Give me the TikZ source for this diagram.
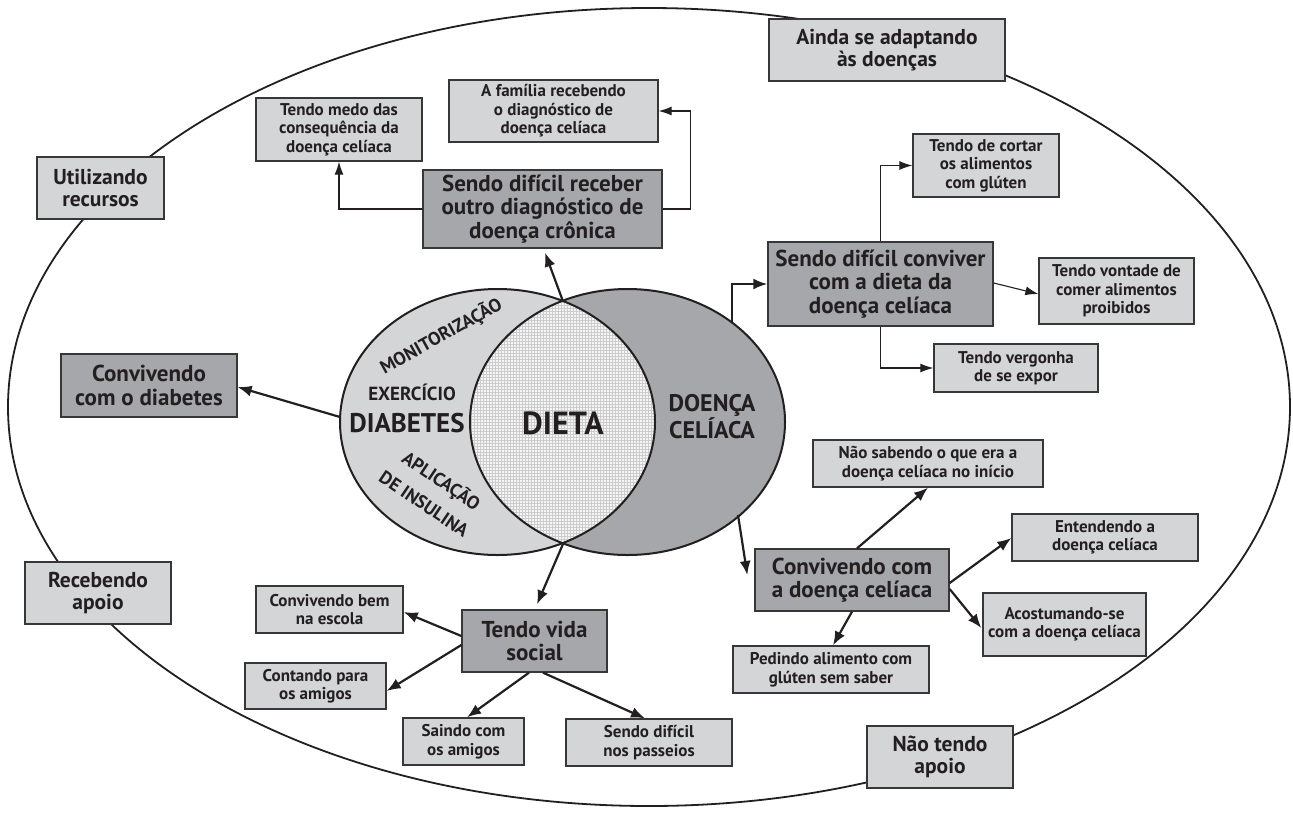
\documentclass[tikz,border=0pt]{standalone}
\usepackage{fontspec}
\setmainfont{PT Sans}
\usetikzlibrary{arrows.meta,patterns,calc}
\definecolor{lightfill}{RGB}{212,213,215}
\definecolor{darkfill}{RGB}{166,167,170}
\definecolor{edge}{RGB}{55,55,55}
\definecolor{ink}{RGB}{35,31,32}
\tikzset{
  lbox/.style={draw=edge, line width=1.3pt, fill=lightfill, text=ink, align=center, inner sep=2pt,
    font=\bfseries\fontsize{17}{18.5}\selectfont},
  obox/.style={lbox, font=\bfseries\fontsize{21.5}{22}\selectfont},
  dbox/.style={draw=edge, line width=1.3pt, fill=darkfill, text=ink, align=center, inner sep=2pt,
    font=\bfseries\fontsize{23}{23.5}\selectfont},
  thickarrow/.style={draw=ink, line width=2.2pt, -{Latex[length=14pt,width=11pt]}},
  thinarrow/.style={draw=ink, line width=1.1pt, -{Latex[length=13pt,width=9pt]}},
  venntext/.style={text=ink, align=center, inner sep=0pt}
}
\begin{document}
\begin{tikzpicture}[x=1pt,y=-1pt]
\useasboundingbox (0,0) rectangle (1293,815);
% outer ellipse
\draw[ink, line width=1.8pt] (649,407) ellipse [x radius=641, y radius=399];

% Venn diagram
\fill[lightfill] (497.5,422) ellipse [x radius=157.5, y radius=133];
\fill[darkfill] (627.5,422) ellipse [x radius=157.5, y radius=133];
\begin{scope}
  \clip (497.5,422) ellipse [x radius=157.5, y radius=133];
  \fill[black!4] (627.5,422) ellipse [x radius=157.5, y radius=133];
  \fill[pattern=grid, pattern color=black!20] (627.5,422) ellipse [x radius=157.5, y radius=133];
\end{scope}
\draw[ink, line width=2pt] (497.5,422) ellipse [x radius=157.5, y radius=133];
\draw[ink, line width=2pt] (627.5,422) ellipse [x radius=157.5, y radius=133];

\node[venntext, rotate=29, font=\bfseries\fontsize{18.5}{20}\selectfont] (monit) at (441,336) {MONITORIZAÇÃO};
\node[venntext, font=\bfseries\fontsize{19}{20}\selectfont] (exerc) at (412,392) {EXERCÍCIO};
\node[venntext, font=\bfseries\fontsize{27}{28}\selectfont] (diabetes) at (407,423) {DIABETES};
\node[venntext, font=\bfseries\fontsize{32}{34}\selectfont] (dieta) at (563,423) {DIETA};
\node[venntext, font=\bfseries\fontsize{24}{24}\selectfont] (celiaca) at (712,417) {DOENÇA\\CELÍACA};
\node[venntext, rotate=-34, font=\bfseries\fontsize{18.5}{20}\selectfont] (aplic) at (441,481) {APLICAÇÃO};
\node[venntext, rotate=-34, font=\bfseries\fontsize{18.5}{20}\selectfont] (insul) at (424,504) {DE INSULINA};

\coordinate (topint) at (562.5,300);
\coordinate (botint) at (563,544);
\coordinate (leftpt) at (340,417);
\coordinate (rightup) at (732,323);
\coordinate (rightlow) at (738,515);

% outer boxes
\node[obox, minimum width=236, minimum height=62] (ainda) at (887,50) {Ainda se adaptando\\às doenças};
\node[obox, minimum width=127, minimum height=62] (utiliz) at (100.5,188) {Utilizando\\recursos};
\node[obox, minimum width=146, minimum height=62] (receb) at (98,593) {Recebendo\\apoio};
\node[obox, minimum width=146, minimum height=62] (naotendo) at (940,757) {Não tendo\\apoio};

% dark boxes
\node[dbox, minimum width=176, minimum height=63] (diab) at (149,385.5) {Convivendo\\com o diabetes};
\node[dbox, minimum width=239, minimum height=78] (sdrec) at (542.5,209) {Sendo difícil receber\\outro diagnóstico de\\doença crônica};
\node[dbox, minimum width=225, minimum height=84] (sdconv) at (880.5,284) {Sendo difícil conviver\\com a dieta da\\doença celíaca};
\node[dbox, minimum width=194, minimum height=62] (conviv) at (852,580) {Convivendo com\\a doença celíaca};
\node[dbox, minimum width=145, minimum height=62] (vida) at (534.5,641) {Tendo vida\\social};

% small boxes
\node[lbox, minimum width=209, minimum height=62] (familia) at (553.5,111) {A família recebendo\\o diagnóstico de\\doença celíaca};
\node[lbox, minimum width=166, minimum height=63] (medo) at (339,129.5) {Tendo medo das\\consequência da\\doença celíaca};
\node[lbox, minimum width=146, minimum height=63] (cortar) at (986,165.5) {Tendo de cortar\\os alimentos\\com glúten};
\node[lbox, minimum width=155, minimum height=66] (vontade) at (1116.5,291) {Tendo vontade de\\comer alimentos\\proibidos};
\node[lbox, minimum width=164, minimum height=48] (vergonha) at (1016,368) {Tendo vergonha\\de se expor};
\node[lbox, minimum width=230, minimum height=47] (naosab) at (928,463.5) {Não sabendo o que era a\\doença celíaca no início};
\node[lbox, minimum width=186, minimum height=47] (entend) at (1105,537.5) {Entendendo a\\doença celíaca};
\node[lbox, minimum width=163, minimum height=63] (acost) at (1064.5,624.5) {Acostumando-se\\com a doença celíaca};
\node[lbox, minimum width=196, minimum height=47] (pedindo) at (831,669.5) {Pedindo alimento com\\glúten sem saber};
\node[lbox, minimum width=147, minimum height=47] (bem) at (329.5,609.5) {Convivendo bem\\na escola};
\node[lbox, minimum width=141, minimum height=46] (contando) at (315.5,686) {Contando para\\os amigos};
\node[lbox, minimum width=121, minimum height=47] (saindo) at (463.5,741.5) {Saindo com\\os amigos};
\node[lbox, minimum width=166, minimum height=47] (passeios) at (649,742.5) {Sendo difícil\\nos passeios};

% connectors from Venn
\draw[thickarrow] (topint) -- ($(sdrec.south)+(2.5,4)$);
\draw[thickarrow] (botint) -- ($(vida.north)+(2.5,-5)$);
\draw[thickarrow] (leftpt) -- ($(diab.east)+(0,1.5)$);
\draw[thickarrow] (rightup) |- (sdconv.west);
\draw[thickarrow] (rightlow) -- ($(conviv.west)+(-7,-5)$);

% elbow connectors
\draw[thinarrow] (sdrec.west) -| (medo.south);
\draw[thinarrow] (sdrec.east) -- ++(28,0) |- (familia.east);
\draw[thinarrow] (sdconv.north) |- (cortar.west);
\draw[thinarrow] ($(sdconv.east)+(0,-1)$) -- ($(vontade.west)+(0,3)$);
\draw[thinarrow] (sdconv.south) |- (vergonha.west);

% convivendo com a doença celíaca
\draw[thickarrow] ($(conviv.north)+(5,0)$) -- (naosab.south);
\draw[thickarrow] ($(conviv.east)+(0,3)$) -- ($(entend.west)+(0,0.5)$);
\draw[thickarrow] ($(conviv.east)+(0,9)$) -- ($(acost.west)+(-1,3.5)$);
\draw[thickarrow] (conviv.south) -- ($(pedindo.north)+(2,0)$);

% tendo vida social
\draw[thickarrow] ($(vida.west)+(0,-5)$) -- ($(bem.east)+(0,2.5)$);
\draw[thickarrow] ($(vida.west)+(0,4)$) -- ($(contando.east)+(0,5)$);
\draw[thickarrow] ($(vida.south)+(-5.5,0)$) -- ($(saindo.north)+(3.5,0)$);
\draw[thickarrow] ($(vida.south)+(8.5,0)$) -- ($(passeios.north)+(-4,0)$);
\end{tikzpicture}
\end{document}
